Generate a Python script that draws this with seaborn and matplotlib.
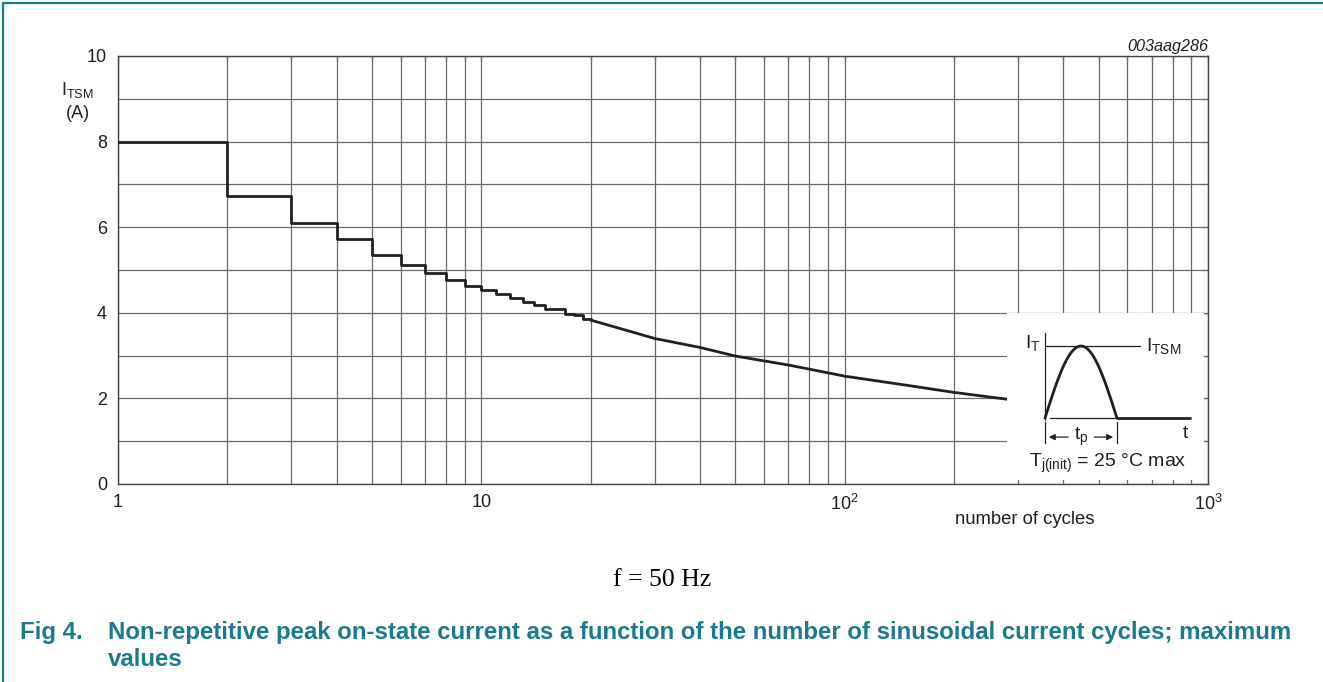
import numpy as np
import matplotlib.pyplot as plt
import seaborn as sns
import pandas as pd
from matplotlib.lines import Line2D
from matplotlib.ticker import LogLocator, MultipleLocator, NullFormatter, FixedLocator, FixedFormatter

# data
step_cycles = [1, 2, 3, 4, 5, 6, 7, 8, 9, 10, 11, 12, 13, 14, 15, 16, 17, 18, 19, 20]
step_itsm = [8.0, 6.72, 6.09, 5.72, 5.35, 5.12, 4.92, 4.77, 4.63, 4.53,
             4.43, 4.35, 4.26, 4.18, 4.10, 4.08, 3.97, 3.95, 3.85, 3.83]
curve_cycles = [20, 30, 40, 50, 70, 100, 150, 200, 280]
curve_itsm = [3.83, 3.40, 3.19, 2.99, 2.78, 2.52, 2.30, 2.14, 1.98]

x_ticks = [1, 10, 100, 1000]
x_tick_labels = ["1", "10", "$10^2$", "$10^3$"]
y_ticks = [0, 2, 4, 6, 8, 10]

teal = "#1a7a8e"
ink = "#231f20"
grid_col = "#6b6b6b"

sns.set_theme(style="white")
plt.rcParams["font.family"] = ["Liberation Sans", "DejaVu Sans"]
plt.rcParams["mathtext.fontset"] = "custom"
plt.rcParams["mathtext.rm"] = "Liberation Sans"
plt.rcParams["mathtext.it"] = "Liberation Sans:italic"
plt.rcParams["mathtext.default"] = "regular"

fig = plt.figure(figsize=(13.23, 6.82), dpi=100)
ax = fig.add_axes([118 / 1323, 1 - 484 / 682, 1090 / 1323, 428 / 682])

df_step = pd.DataFrame({"cycles": step_cycles, "itsm": step_itsm})
df_curve = pd.DataFrame({"cycles": curve_cycles, "itsm": curve_itsm})
sns.lineplot(data=df_step, x="cycles", y="itsm", ax=ax, color=ink, lw=2.0,
             drawstyle="steps-post", zorder=3)
sns.lineplot(data=df_curve, x="cycles", y="itsm", ax=ax, color=ink, lw=2.0, zorder=3)

ax.set_xscale("log")
ax.set_xlim(1, 1000)
ax.set_ylim(0, 10)
ax.xaxis.set_major_locator(FixedLocator(x_ticks))
ax.xaxis.set_major_formatter(FixedFormatter(x_tick_labels))
ax.xaxis.set_minor_locator(LogLocator(base=10, subs=np.arange(2, 10)))
ax.xaxis.set_minor_formatter(NullFormatter())
ax.yaxis.set_major_locator(FixedLocator(y_ticks))
ax.yaxis.set_minor_locator(MultipleLocator(1))
ax.grid(True, which="both", color=grid_col, lw=0.9)
ax.tick_params(which="both", direction="in", length=4, width=0.9, color=grid_col,
               top=True, right=True, labelsize=13, colors=ink)
ax.tick_params(axis="x", pad=7)
ax.tick_params(axis="y", pad=8)
for s in ax.spines.values():
    s.set_color("#444444")
    s.set_linewidth(1.0)
ax.set_xlabel("")
ax.set_ylabel("")

# axis titles
fig.text(77 / 1323, 1 - 90 / 682, "I$_{TSM}$", ha="center", va="center", fontsize=13, color=ink)
fig.text(78 / 1323, 1 - 114 / 682, "(A)", ha="center", va="center", fontsize=13, color=ink)
fig.text(1025 / 1323, 1 - 520 / 682, "number of cycles", ha="center", va="center",
         fontsize=13.3, color=ink)
fig.text(1208 / 1323, 1 - 47 / 682, "003aag286", ha="right", va="center",
         fontsize=11.7, style="italic", color=ink)

# inset: pulse shape on a white panel
ins = fig.add_axes([1007 / 1323, 1 - 480 / 682, 197 / 1323, 167 / 682])
ins.set_xlim(0, 1)
ins.set_ylim(0, 1)
ins.set_facecolor("white")
ins.set_xticks([])
ins.set_yticks([])
for s in ins.spines.values():
    s.set_visible(False)
ins.set_zorder(5)

x0, x1, base, peak = 0.193, 0.558, 0.371, 0.802
t = np.linspace(0, 1, 100)
pulse_x = x0 + (x1 - x0) * t
pulse_y = base + (peak - base) * np.sin(np.pi * t)
ins.plot(pulse_x, pulse_y, color=ink, lw=2.0)
ins.plot([x1, 0.929], [base, base], color=ink, lw=2.0)
ins.plot([0.218, 0.548], [base, base], color=ink, lw=0.9)
ins.plot([x0, x0], [0.359, 0.880], color=ink, lw=0.9)
ins.plot([x0, 0.675], [peak, peak], color=ink, lw=0.9)
ins.plot([x0, x0], [0.222, 0.347], color=ink, lw=0.9)
ins.plot([x1, x1], [0.222, 0.347], color=ink, lw=0.9)
ins.annotate("", xy=(x0 + 0.005, 0.257), xytext=(0.325, 0.257),
             arrowprops=dict(arrowstyle="-|>", color=ink, lw=0.9, mutation_scale=9))
ins.annotate("", xy=(x1 - 0.005, 0.257), xytext=(0.43, 0.257),
             arrowprops=dict(arrowstyle="-|>", color=ink, lw=0.9, mutation_scale=9))
ins.text(0.376, 0.257, "t$_p$", ha="center", va="center", fontsize=14, color=ink)
ins.text(0.168, 0.82, "I$_T$", ha="right", va="center", fontsize=14, color=ink)
ins.text(0.706, 0.80, "I$_{TSM}$", ha="left", va="center", fontsize=14, color=ink)
ins.text(0.904, 0.281, "t", ha="center", va="center", fontsize=14, color=ink)
ins.text(0.513, 0.102, "T$_{j(init)}$ = 25 °C max", ha="center", va="center",
         fontsize=14, color=ink)

# frequency note and caption
fig.text(662 / 1323, 1 - 580 / 682, "f = 50 Hz", ha="center", va="center", fontsize=18.5,
         family=["Liberation Serif", "DejaVu Serif"], color="black")
fig.text(20 / 1323, 1 - 633 / 682, "Fig 4.", ha="left", va="center", fontsize=17.3,
         weight="bold", color=teal)
fig.text(108 / 1323, 1 - 633 / 682,
         "Non-repetitive peak on-state current as a function of the number of sinusoidal current cycles; maximum",
         ha="left", va="center", fontsize=17.3, weight="bold", color=teal)
fig.text(108 / 1323, 1 - 660 / 682, "values", ha="left", va="center", fontsize=17.3,
         weight="bold", color=teal)

# page border (left and top)
fig.add_artist(Line2D([2.5 / 1323, 2.5 / 1323], [0, 1 - 3 / 682], color=teal, lw=1.6))
fig.add_artist(Line2D([2.5 / 1323, 1], [1 - 3 / 682, 1 - 3 / 682], color=teal, lw=1.6))

fig.savefig("out.png", dpi=100)
